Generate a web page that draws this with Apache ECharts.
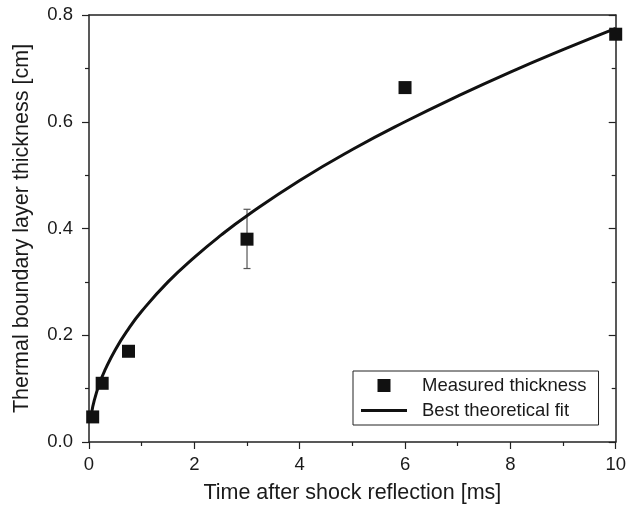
<!DOCTYPE html>
<html>
<head>
<meta charset="utf-8">
<script src="https://cdn.jsdelivr.net/npm/echarts@6/dist/echarts.min.js"></script>
<style>
html,body{margin:0;padding:0;background:#fff;}
#chart{width:629px;height:511px;}
</style>
</head>
<body>
<div id="chart"></div>
<script>
// Measured data points
var measuredTime = [0.07, 0.25, 0.75, 3, 6, 10];
var measuredThickness = [0.047, 0.11, 0.17, 0.38, 0.664, 0.764];
// Error bar at t = 3 ms
var errTime = [3];
var errLow = [0.325];
var errHigh = [0.436];
// Best theoretical fit curve
var fitTime = [0.05, 0.1, 0.2, 0.3, 0.5, 0.75, 1, 1.5, 2, 2.5, 3, 4, 5, 6, 7, 8, 9, 10];
var fitThickness = [0.055, 0.078, 0.11, 0.134, 0.173, 0.212, 0.245, 0.30, 0.346, 0.387, 0.424, 0.49, 0.548, 0.60, 0.648, 0.693, 0.735, 0.775];
// Axis ticks
var xTicks = [0, 2, 4, 6, 8, 10];
var yTicks = [0.0, 0.2, 0.4, 0.6, 0.8];

var FONT = '"Liberation Sans", Arial, sans-serif';
var TXT = '#1a1a1a';

var chart = echarts.init(document.getElementById('chart'));

var measuredData = measuredTime.map(function (t, i) { return [t, measuredThickness[i]]; });
var fitData = fitTime.map(function (t, i) { return [t, fitThickness[i]]; });
var errData = errTime.map(function (t, i) { return [t, errLow[i], errHigh[i]]; });

var option = {
  backgroundColor: '#fff',
  animation: false,
  grid: { left: 89, right: 9, top: 15, bottom: 69 },
  legend: {
    orient: 'vertical',
    left: 353,
    top: 371,
    padding: [5, 12, 5, 8],
    borderColor: '#222',
    borderWidth: 1,
    itemWidth: 46,
    itemHeight: 13,
    itemGap: 6,
    symbolKeepAspect: true,
    textStyle: { fontFamily: FONT, fontSize: 18.5, color: TXT, lineHeight: 14, padding: [0, 0, 0, 10] },
    data: [
      { name: 'Measured thickness', icon: 'path://M0,0h13v13h-13z', itemStyle: { color: '#111' } },
      { name: 'Best theoretical fit', icon: 'path://M0,0h46v3h-46z', itemStyle: { color: '#111' } }
    ]
  },
  xAxis: [{
    type: 'value',
    min: xTicks[0],
    max: xTicks[xTicks.length - 1],
    interval: 2,
    position: 'bottom',
    name: 'Time after shock reflection [ms]',
    nameLocation: 'middle',
    nameGap: 40,
    nameTextStyle: { fontFamily: FONT, fontSize: 21.5, color: TXT },
    axisLine: { onZero: false, lineStyle: { color: '#222', width: 1.5 } },
    axisTick: { show: true, inside: false, length: 7, lineStyle: { color: '#222', width: 1.2 } },
    minorTick: { show: true, splitNumber: 2, length: 4, lineStyle: { color: '#222', width: 1.2 } },
    axisLabel: { fontFamily: FONT, fontSize: 18.5, color: TXT, margin: 13 },
    splitLine: { show: false }
  }, {
    type: 'value',
    min: xTicks[0],
    max: xTicks[xTicks.length - 1],
    interval: 2,
    position: 'top',
    axisLine: { onZero: false, lineStyle: { color: '#222', width: 1.5 } },
    axisTick: { show: false },
    axisLabel: { show: false },
    splitLine: { show: false }
  }],
  yAxis: [{
    type: 'value',
    min: yTicks[0],
    max: yTicks[yTicks.length - 1],
    interval: 0.2,
    position: 'left',
    name: 'Thermal boundary layer thickness [cm]',
    nameLocation: 'middle',
    nameGap: 56,
    nameTextStyle: { fontFamily: FONT, fontSize: 21.5, color: TXT },
    axisLine: { show: true, onZero: false, lineStyle: { color: '#222', width: 1.5 } },
    axisTick: { show: true, inside: false, length: 7, lineStyle: { color: '#222', width: 1.2 } },
    minorTick: { show: true, splitNumber: 2, length: 4, lineStyle: { color: '#222', width: 1.2 } },
    axisLabel: { fontFamily: FONT, fontSize: 18.5, color: TXT, margin: 16,
      formatter: function (v) { return v.toFixed(1); } },
    splitLine: { show: false }
  }, {
    type: 'value',
    min: yTicks[0],
    max: yTicks[yTicks.length - 1],
    interval: 0.2,
    position: 'right',
    axisLine: { show: true, onZero: false, lineStyle: { color: '#222', width: 1.5 } },
    axisTick: { show: true, inside: true, length: 7, lineStyle: { color: '#222', width: 1.2 } },
    minorTick: { show: true, splitNumber: 2, length: 4, lineStyle: { color: '#222', width: 1.2 } },
    axisLabel: { show: false },
    splitLine: { show: false }
  }],
  series: [{
    name: 'Error',
    type: 'custom',
    xAxisIndex: 0,
    yAxisIndex: 0,
    data: errData,
    z: 1,
    renderItem: function (params, api) {
      var x = api.value(0);
      var lo = api.coord([x, api.value(1)]);
      var hi = api.coord([x, api.value(2)]);
      var cap = 3.5;
      var style = { stroke: '#555', lineWidth: 1.2 };
      return {
        type: 'group',
        children: [
          { type: 'line', shape: { x1: lo[0], y1: lo[1], x2: hi[0], y2: hi[1] }, style: style },
          { type: 'line', shape: { x1: lo[0] - cap, y1: lo[1], x2: lo[0] + cap, y2: lo[1] }, style: style },
          { type: 'line', shape: { x1: hi[0] - cap, y1: hi[1], x2: hi[0] + cap, y2: hi[1] }, style: style }
        ]
      };
    }
  }, {
    name: 'Best theoretical fit',
    type: 'line',
    xAxisIndex: 0,
    yAxisIndex: 0,
    data: fitData,
    smooth: true,
    symbol: 'none',
    showSymbol: false,
    lineStyle: { color: '#111', width: 3 },
    itemStyle: { color: '#111' },
    z: 2
  }, {
    name: 'Measured thickness',
    type: 'scatter',
    xAxisIndex: 0,
    yAxisIndex: 0,
    data: measuredData,
    symbol: 'rect',
    symbolSize: 13,
    itemStyle: { color: '#111', opacity: 1 },
    z: 3
  }]
};
chart.setOption(option);
</script>
</body>
</html>
